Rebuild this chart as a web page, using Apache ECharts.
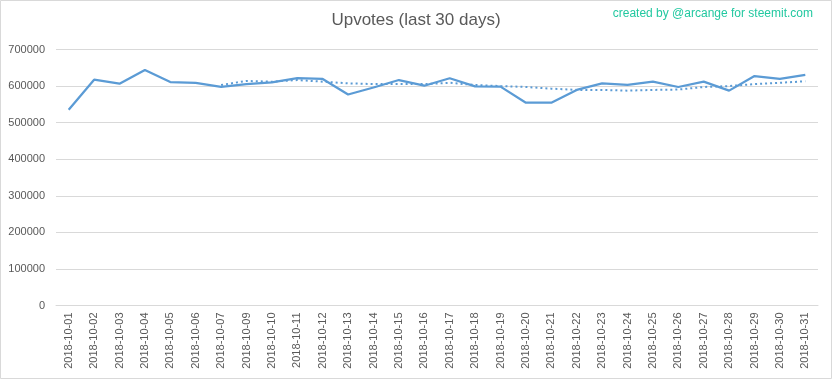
<!DOCTYPE html>
<html>
<head>
<meta charset="utf-8">
<script src="https://cdn.jsdelivr.net/npm/echarts@6/dist/echarts.min.js"></script>
<style>
html,body{margin:0;padding:0;background:#fff;}
#chart{width:832px;height:379px;}
</style>
</head>
<body>
<div id="chart"></div>
<script>
var categories = ["2018-10-01","2018-10-02","2018-10-03","2018-10-04","2018-10-05","2018-10-06","2018-10-07","2018-10-09","2018-10-10","2018-10-11","2018-10-12","2018-10-13","2018-10-14","2018-10-15","2018-10-16","2018-10-17","2018-10-18","2018-10-19","2018-10-20","2018-10-21","2018-10-22","2018-10-23","2018-10-24","2018-10-25","2018-10-26","2018-10-27","2018-10-28","2018-10-29","2018-10-30","2018-10-31"];
var upvotes = [535000,617500,606500,644000,611000,608500,597500,605000,610000,622000,619500,577000,596000,616500,601000,621500,599000,598500,554500,554500,589500,607500,603000,612000,597500,612000,587500,627500,619500,630500];
var trend = [null,null,null,null,null,null,603000,614000,612000,616500,612000,607500,605500,605500,605500,609000,603000,600000,597500,593000,589500,589500,587500,589500,590500,597500,600000,605500,609000,613000];
var yTicks = {min:0, max:700000, interval:100000};

var chart = echarts.init(document.getElementById('chart'), null, {renderer:'canvas'});
chart.setOption({
  animation:false,
  backgroundColor:'#ffffff',
  title:{
    text:'Upvotes (last 30 days)',
    left:'center',
    top:12,
    padding:0,
    textStyle:{fontFamily:'Liberation Sans',fontSize:17,fontWeight:'normal',color:'#595959'}
  },
  graphic:[
    {type:'text',right:19,top:8,style:{text:'created by @arcange for steemit.com',fontFamily:'Liberation Sans',fontSize:12,fill:'#22c8a0'}},
    {type:'rect',shape:{x:0.5,y:0.5,width:831,height:378},style:{fill:'none',stroke:'#d9d9d9',lineWidth:1},silent:true}
  ],
  grid:{left:56,right:14,top:49.5,bottom:73.5,containLabel:false},
  xAxis:{
    type:'category',
    data:categories,
    boundaryGap:true,
    axisLine:{show:true,lineStyle:{color:'#d9d9d9',width:1}},
    axisTick:{show:false},
    axisLabel:{rotate:90,interval:0,margin:7,fontFamily:'Liberation Sans',fontSize:11,color:'#595959'}
  },
  yAxis:{
    type:'value',
    min:yTicks.min,max:yTicks.max,interval:yTicks.interval,
    axisLine:{show:false},
    axisTick:{show:false},
    splitLine:{show:true,lineStyle:{color:'#d9d9d9',width:1}},
    axisLabel:{margin:11,fontFamily:'Liberation Sans',fontSize:11,color:'#595959',
      formatter:function(v){return String(v);}}
  },
  series:[
    {type:'line',name:'Upvotes',data:upvotes,showSymbol:false,symbol:'none',
     lineStyle:{color:'#5b9bd5',width:2.25},itemStyle:{color:'#5b9bd5'},z:3},
    {type:'line',name:'Trend',data:trend,showSymbol:false,symbol:'none',connectNulls:false,
     lineStyle:{color:'#5b9bd5',width:2,type:[2,3]},itemStyle:{color:'#5b9bd5'},z:2}
  ]
});
</script>
</body>
</html>
